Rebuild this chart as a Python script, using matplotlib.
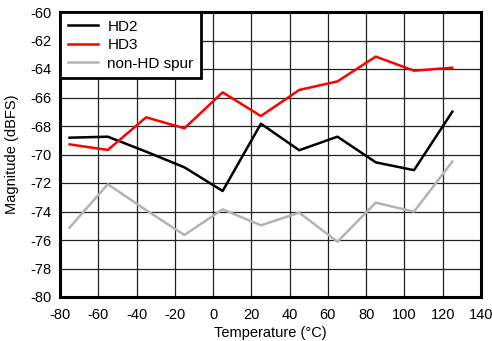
import matplotlib
matplotlib.use("Agg")
import matplotlib.pyplot as plt

plt.rcParams['font.family'] = ['Liberation Sans', 'DejaVu Sans']

temps = [-75, -55, -35, -15, 5, 25, 45, 65, 85, 105, 125]
hd2 = [-68.82, -68.75, -69.8, -70.9, -72.56, -67.84, -69.7, -68.75, -70.55, -71.1, -67.0]
hd3 = [-69.29, -69.68, -67.39, -68.16, -65.64, -67.3, -65.47, -64.87, -63.13, -64.12, -63.91]
spur = [-75.13, -72.09, -73.9, -75.65, -73.85, -74.97, -74.08, -76.12, -73.38, -74.01, -70.5]
xticks = list(range(-80, 141, 20))
yticks = list(range(-80, -59, 2))

fig = plt.figure(figsize=(4.92, 3.41), dpi=100)
ax = fig.add_axes([60/492, 1-297/341, 421/492, 285/341])

ax.plot(temps, hd2, color='black', lw=1.8, label='HD2')
ax.plot(temps, hd3, color='#ff0000', lw=1.8, label='HD3')
ax.plot(temps, spur, color='#b4b4b4', lw=1.8, label='non-HD spur')

ax.set_xlim(-80, 140)
ax.set_ylim(-80, -60)
ax.set_xticks(xticks)
ax.set_yticks(yticks)
ax.set_xticklabels([str(t) for t in xticks])
ax.set_yticklabels([str(t) for t in yticks])
ax.tick_params(length=0, labelsize=10.5, colors='black')
ax.tick_params(axis='x', pad=8)
ax.tick_params(axis='y', pad=6)
ax.grid(True, color='#222222', lw=0.9)
ax.set_axisbelow(True)
for s in ax.spines.values():
    s.set_linewidth(2.2)
    s.set_color('black')

ax.set_xlabel('Temperature (°C)', fontsize=10.5, labelpad=3)
ax.set_ylabel('Magnitude (dBFS)', fontsize=10.5, labelpad=8)

leg = ax.legend(loc='upper left', borderaxespad=0, fancybox=False, framealpha=1,
                edgecolor='black', fontsize=11, handlelength=2.0, handletextpad=0.6,
                labelspacing=0.3, borderpad=0.5)
leg.get_frame().set_linewidth(2)

fig.savefig('out.png', dpi=100)
